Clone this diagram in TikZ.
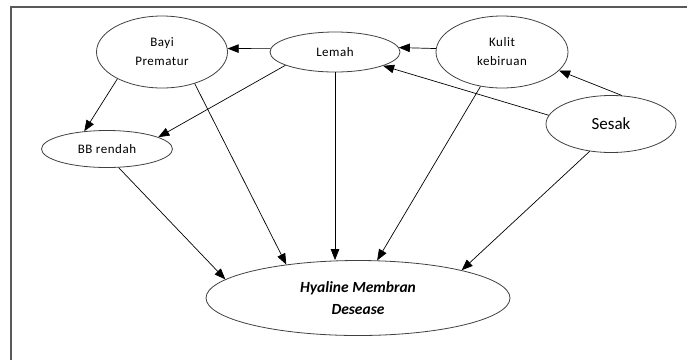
\documentclass[tikz,border=0pt]{standalone}
\usepackage{fontspec}
\setmainfont{Carlito}
\newfontfamily\lblfont[LetterSpace=4]{Carlito}
\usetikzlibrary{shapes.geometric,arrows.meta}
\begin{document}
\begin{tikzpicture}[x=1pt, y=-1pt, >={Triangle[length=11pt,width=8.5pt]},
		every node/.style={font=\lblfont\fontsize{13}{19}\selectfont, align=center},
		oval/.style={draw=black!75, line width=0.8pt, ellipse, inner sep=0pt},
		link/.style={->, line width=0.7pt}]
	\useasboundingbox (0,0) rectangle (687,360);
	\draw[black!65, line width=1.5pt] (11,360) -- (11,7) -- (687,7);
	\node[oval, minimum width=131pt, minimum height=72pt] (bayi) at (162,52) {Bayi\\Prematur};
	\node[oval, minimum width=130pt, minimum height=40pt] (lemah) at (335,52) {Lemah};
	\node[oval, minimum width=132pt, minimum height=72pt] (kulit) at (502,52) {Kulit\\kebiruan};
	\node[oval, minimum width=130pt, minimum height=57pt, font=\fontsize{17}{20}\selectfont]
		(sesak) at (611,124) {Sesak};
	\node[oval, minimum width=131pt, minimum height=37pt] (bb) at (107,149) {BB rendah};
	\node[oval, minimum width=304pt, minimum height=75pt,
		font=\bfseries\itshape\fontsize{15.5}{22}\selectfont] (hmd) at (358,298) {Hyaline Membran\\Desease};
	\draw[link] (lemah.177) -- (bayi.3);
	\draw[link] (kulit.177) -- (lemah.4);
	\draw[link] (sesak.172) -- (lemah.-16);
	\draw[link] (sesak.69) -- (kulit.-18);
	\draw[link] (bayi.211) -- (bb.142);
	\draw[link] (lemah.195) -- (bb.13);
	\draw[link] (bayi.-44) -- (hmd.155);
	\draw[link] (lemah.south) -- (lemah.south |- hmd.north);
	\draw[link] (kulit.238) -- (hmd.63);
	\draw[link] (sesak.232) -- (hmd.15);
	\draw[link] (bb.-58) -- (hmd.172);
\end{tikzpicture}
\end{document}
